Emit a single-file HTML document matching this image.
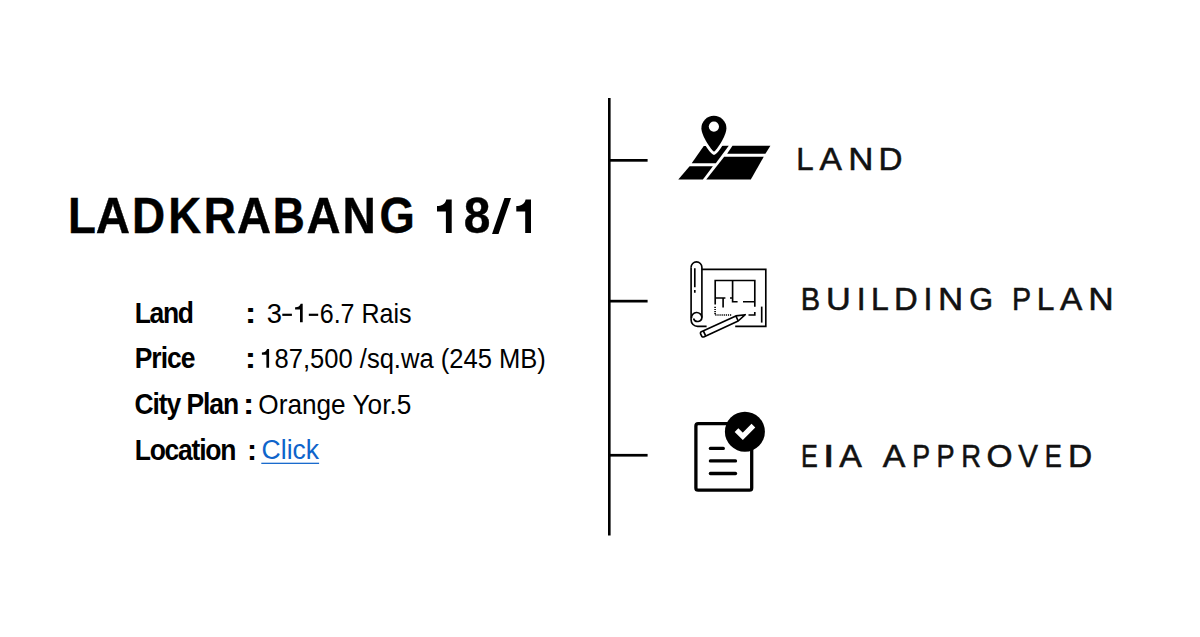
<!DOCTYPE html>
<html><head><meta charset="utf-8">
<style>
html,body{margin:0;padding:0;background:#fff;}
body{width:1200px;height:637px;position:relative;overflow:hidden;}
svg{position:absolute;left:0;top:0;}
text{font-family:"Liberation Sans",sans-serif;}
</style></head><body>
<svg width="1200" height="637" viewBox="0 0 1200 637">
  <!-- timeline -->
  <g fill="#000">
    <rect x="608" y="98" width="2.6" height="437.5"/>
    <rect x="609" y="159" width="38.6" height="2.7"/>
    <rect x="609" y="299.8" width="38.6" height="2.7"/>
    <rect x="609" y="453.9" width="38.6" height="2.7"/>
  </g>
  <!-- land icon -->
  <g fill="#000">
    <polygon points="703.75,146 728.75,145.7 715.8,163.3 691.7,163.3"/>
    <polygon points="689.6,166.25 712.9,166.25 702.9,179.6 678.3,179.6"/>
    <polygon points="732.5,145.7 770.4,145.7 765.4,153.75 727.1,153.75"/>
    <polygon points="724.2,156.7 763.75,156.7 750.8,179.6 706.25,179.6"/>
    <g transform="translate(0 1)"><path d="M714 150.8 C711.76 149.5 701.4 135.2 701.4 127.3 A12.5 12.5 0 0 1 726.4 127.3 C726.4 135.2 716.24 149.5 714 150.8 Z" stroke="#fff" stroke-width="5.5" stroke-linejoin="miter"/>
    <path d="M714 150.8 C711.76 149.5 701.4 135.2 701.4 127.3 A12.5 12.5 0 0 1 726.4 127.3 C726.4 135.2 716.24 149.5 714 150.8 Z"/>
    <circle cx="713.9" cy="125.6" r="5.1" fill="#fff"/></g>
  </g>
  <!-- building plan icon -->
  <g fill="none" stroke="#000" stroke-width="1.65">
    <path d="M691.1 267.3 A5.4 5.4 0 0 1 701.9 267.3 L701.9 317.4"/>
    <path d="M691.1 267.3 L691.1 319.9 A6.5 6.5 0 0 0 697.6 326.4 L706.6 326.4"/>
    <path d="M691.5 318 A5 5 0 0 1 701.9 317.4 A4.3 4.3 0 0 1 693.5 318.5"/>
    <path d="M694.8 268.3 L694.8 287.2 M694.8 290 L694.8 292.7"/>
    <path d="M701.9 269.4 L765.8 269.4 L765.8 326.4 L735.2 326.4"/>
    <path d="M761.7 306.6 L761.7 322.6"/>
    <path d="M715.2 304.4 L715.2 280.5 L754.8 280.5 L754.8 306.8"/>
    <path d="M732.6 280.5 L732.6 301.7 L737.6 301.7 M743 301.7 L754.8 301.7"/>
    <path d="M715.2 298 L725.4 298 M730 298 L732.6 298"/>
    <path d="M723.1 298 L723.1 307.6"/>
    <path d="M754.8 311.9 L754.8 315 L748.5 315"/>
    <path d="M715.1 306.8 L715.1 315 L731.3 315" stroke-dasharray="1.2 0.9"/>
  </g>
  <!-- pencil -->
  <g fill="none" stroke="#000" stroke-width="1.65" stroke-linejoin="round">
    <g transform="translate(745.2 314.7) rotate(155.3)">
      <path d="M0 0 L9 -2.8 L47 -2.8 A1.5 1.5 0 0 1 48.5 -1.3 L48.5 1.3 A1.5 1.5 0 0 1 47 2.8 L9 2.8 Z"/>
      <path d="M9 -2.8 L9 2.8 M44.8 -2.8 L44.8 2.8"/>
    </g>
  </g>
  <!-- EIA icon -->
  <g>
    <rect x="695.9" y="423.7" width="55.8" height="66.5" rx="2.2" fill="none" stroke="#000" stroke-width="3.3"/>
    <g stroke="#000" stroke-width="3.3" stroke-linecap="round">
      <line x1="710.4" y1="448.4" x2="723.3" y2="448.4"/>
      <line x1="710.4" y1="460.9" x2="735.5" y2="460.9"/>
      <line x1="710.4" y1="473.5" x2="735.5" y2="473.5"/>
    </g>
    <circle cx="744.9" cy="431.7" r="20" fill="#000"/>
    <polyline points="736.5,430.1 742.8,436.4 753.4,425.6" fill="none" stroke="#fff" stroke-width="5.2"/>
  </g>

<text transform="translate(68.12 233.10) scale(0.9132 1)" font-weight="bold" font-size="50.0" fill="#000" stroke="#000" stroke-width="0.4">L</text>
<text transform="translate(95.81 233.10) scale(0.9493 1)" font-weight="bold" font-size="50.0" fill="#000" stroke="#000" stroke-width="0.4">A</text>
<text transform="translate(132.10 233.10) scale(0.9176 1)" font-weight="bold" font-size="50.0" fill="#000" stroke="#000" stroke-width="0.4">D</text>
<text transform="translate(168.32 233.10) scale(0.9116 1)" font-weight="bold" font-size="50.0" fill="#000" stroke="#000" stroke-width="0.4">K</text>
<text transform="translate(203.70 233.10) scale(0.8885 1)" font-weight="bold" font-size="50.0" fill="#000" stroke="#000" stroke-width="0.4">R</text>
<text transform="translate(237.02 233.10) scale(0.9433 1)" font-weight="bold" font-size="50.0" fill="#000" stroke="#000" stroke-width="0.4">A</text>
<text transform="translate(272.70 233.10) scale(0.8885 1)" font-weight="bold" font-size="50.0" fill="#000" stroke="#000" stroke-width="0.4">B</text>
<text transform="translate(306.52 233.10) scale(0.9433 1)" font-weight="bold" font-size="50.0" fill="#000" stroke="#000" stroke-width="0.4">A</text>
<text transform="translate(342.59 233.10) scale(0.9226 1)" font-weight="bold" font-size="50.0" fill="#000" stroke="#000" stroke-width="0.4">N</text>
<text transform="translate(379.39 233.10) scale(0.9067 1)" font-weight="bold" font-size="50.0" fill="#000" stroke="#000" stroke-width="0.4">G</text>
<text transform="translate(463.64 233.10) scale(0.9584 1)" font-weight="bold" font-size="50.0" fill="#000" stroke="#000" stroke-width="0.4">8</text>
<text transform="translate(134.71 322.80) scale(0.9200 1)" font-weight="bold" font-size="28.8" fill="#000" letter-spacing="-1.485">Land</text>
<text transform="translate(134.71 368.20) scale(0.9200 1)" font-weight="bold" font-size="28.8" fill="#000" letter-spacing="-1.096">Price</text>
<text transform="translate(134.44 413.60) scale(0.9200 1)" font-weight="bold" font-size="28.8" fill="#000" letter-spacing="-1.167">City Plan</text>
<text transform="translate(134.71 459.70) scale(0.9200 1)" font-weight="bold" font-size="28.8" fill="#000" letter-spacing="-1.332">Location</text>
<text transform="translate(244.77 322.70) scale(1.2183 1)" font-weight="bold" font-size="28.8" fill="#000">:</text>
<text transform="translate(244.63 368.10) scale(1.1940 1)" font-weight="bold" font-size="28.8" fill="#000">:</text>
<text transform="translate(242.90 413.90) scale(1.1696 1)" font-weight="bold" font-size="28.8" fill="#000">:</text>
<text transform="translate(246.93 459.60) scale(1.0478 1)" font-weight="bold" font-size="28.8" fill="#000">:</text>
<text transform="translate(266.67 322.50) scale(1.0136 1)" font-weight="normal" font-size="27.0" fill="#000">3</text>
<text transform="translate(319.75 322.50) scale(0.9273 1)" font-weight="normal" font-size="27.0" fill="#000">6.7 Rais</text>
<text transform="translate(274.51 367.80) scale(0.9470 1)" font-weight="normal" font-size="27.0" fill="#000">87,500 /sq.wa (245 MB)</text>
<text transform="translate(258.25 413.60) scale(0.9713 1)" font-weight="normal" font-size="27.0" fill="#000">Orange Yor.5</text>
<text transform="translate(261.57 459.00) scale(0.9830 1)" font-weight="normal" font-size="27.0" fill="#0f64cb">Click</text>
<text transform="translate(796.19 170.30) scale(0.9773 1)" font-weight="normal" font-size="32.0" fill="#111" stroke="#111" stroke-width="0.55">L</text>
<text transform="translate(819.39 170.30) scale(1.0500 1)" font-weight="normal" font-size="32.0" fill="#111" stroke="#111" stroke-width="0.55">A</text>
<text transform="translate(848.19 170.30) scale(1.0908 1)" font-weight="normal" font-size="32.0" fill="#111" stroke="#111" stroke-width="0.55">N</text>
<text transform="translate(878.53 170.30) scale(1.0369 1)" font-weight="normal" font-size="32.0" fill="#111" stroke="#111" stroke-width="0.55">D</text>
<text transform="translate(800.67 309.70) scale(0.9073 1)" font-weight="normal" font-size="32.0" fill="#111" stroke="#111" stroke-width="0.55">B</text>
<text transform="translate(826.01 309.70) scale(1.0716 1)" font-weight="normal" font-size="32.0" fill="#111" stroke="#111" stroke-width="0.55">U</text>
<text transform="translate(856.68 309.70) scale(1.0000 1)" font-weight="normal" font-size="32.0" fill="#111" stroke="#111" stroke-width="0.55">I</text>
<text transform="translate(871.03 309.70) scale(0.9986 1)" font-weight="normal" font-size="32.0" fill="#111" stroke="#111" stroke-width="0.55">L</text>
<text transform="translate(894.06 309.70) scale(1.0264 1)" font-weight="normal" font-size="32.0" fill="#111" stroke="#111" stroke-width="0.55">D</text>
<text transform="translate(923.41 309.70) scale(1.0000 1)" font-weight="normal" font-size="32.0" fill="#111" stroke="#111" stroke-width="0.55">I</text>
<text transform="translate(937.89 309.70) scale(1.0908 1)" font-weight="normal" font-size="32.0" fill="#111" stroke="#111" stroke-width="0.55">N</text>
<text transform="translate(969.24 309.70) scale(0.9559 1)" font-weight="normal" font-size="32.0" fill="#111" stroke="#111" stroke-width="0.55">G</text>
<text transform="translate(1012.11 309.70) scale(0.8955 1)" font-weight="normal" font-size="32.0" fill="#111" stroke="#111" stroke-width="0.55">P</text>
<text transform="translate(1036.65 309.70) scale(0.9915 1)" font-weight="normal" font-size="32.0" fill="#111" stroke="#111" stroke-width="0.55">L</text>
<text transform="translate(1059.99 309.70) scale(1.0453 1)" font-weight="normal" font-size="32.0" fill="#111" stroke="#111" stroke-width="0.55">A</text>
<text transform="translate(1088.36 309.70) scale(1.1020 1)" font-weight="normal" font-size="32.0" fill="#111" stroke="#111" stroke-width="0.55">N</text>
<text transform="translate(800.99 466.70) scale(0.7869 1)" font-weight="normal" font-size="32.0" fill="#111" stroke="#111" stroke-width="0.55">E</text>
<text transform="translate(822.81 466.70) scale(1.3378 1)" font-weight="normal" font-size="32.0" fill="#111" stroke="#111" stroke-width="0.55">I</text>
<text transform="translate(839.19 466.70) scale(1.0594 1)" font-weight="normal" font-size="32.0" fill="#111" stroke="#111" stroke-width="0.55">A</text>
<text transform="translate(882.69 466.70) scale(1.0594 1)" font-weight="normal" font-size="32.0" fill="#111" stroke="#111" stroke-width="0.55">A</text>
<text transform="translate(912.26 466.70) scale(0.8369 1)" font-weight="normal" font-size="32.0" fill="#111" stroke="#111" stroke-width="0.55">P</text>
<text transform="translate(936.53 466.70) scale(0.8486 1)" font-weight="normal" font-size="32.0" fill="#111" stroke="#111" stroke-width="0.55">P</text>
<text transform="translate(961.21 466.70) scale(0.8576 1)" font-weight="normal" font-size="32.0" fill="#111" stroke="#111" stroke-width="0.55">R</text>
<text transform="translate(986.48 466.70) scale(1.0467 1)" font-weight="normal" font-size="32.0" fill="#111" stroke="#111" stroke-width="0.55">O</text>
<text transform="translate(1018.22 466.70) scale(0.9249 1)" font-weight="normal" font-size="32.0" fill="#111" stroke="#111" stroke-width="0.55">V</text>
<text transform="translate(1044.76 466.70) scale(0.7984 1)" font-weight="normal" font-size="32.0" fill="#111" stroke="#111" stroke-width="0.55">E</text>
<text transform="translate(1068.10 466.70) scale(1.0475 1)" font-weight="normal" font-size="32.0" fill="#111" stroke="#111" stroke-width="0.55">D</text>
<path d="M525.2 233.1 L531 233.1 L531 199.6 L525.6 199.6 C524.6 203.5 522 205.9 518 205.9 L516.3 205.9 L516.3 211.5 L525.2 211.5 Z" fill="#000"/>
<path d="M525.2 233.1 L531 233.1 L531 199.6 L525.6 199.6 C524.6 203.5 522 205.9 518 205.9 L516.3 205.9 L516.3 211.5 L525.2 211.5 Z" fill="#000" transform="translate(-79.3 0)"/>
<polygon points="492,234 498.5,234 511,198 504.5,198" fill="#000"/>
<rect x="282.3" y="313.7" width="9.6" height="2.2" fill="#000"/>
<rect x="308.8" y="313.7" width="9.4" height="2.2" fill="#000"/>
<path d="M300 322.3 L302.7 322.3 L302.7 303.7 L300.7 303.7 C299.9 306 298 307.2 295.6 307.3 L295.1 307.3 L295.1 309.4 L300 309.4 Z" fill="#000"/>
<path d="M266.4 367.8 L269.1 367.8 L269.1 348.9 L267.1 348.9 C266.3 351.2 264.4 352.4 262 352.5 L261.9 352.5 L261.9 354.8 L266.4 354.8 Z" fill="#000"/>
<rect x="261.3" y="462.7" width="57.8" height="1.25" fill="#0f64cb"/>
</svg>
</body></html>
